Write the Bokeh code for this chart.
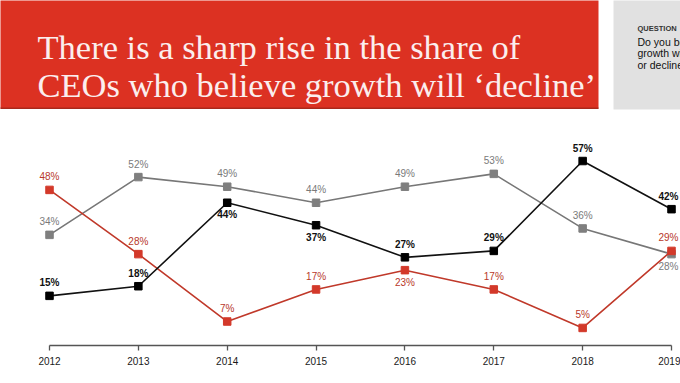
from bokeh.plotting import figure
from bokeh.models import Range1d, FixedTicker, BoxAnnotation, Label, ColumnDataSource
from bokeh.core.properties import value
from bokeh.embed import file_html
from bokeh.resources import INLINE

# ---------------- data ----------------
years = [2012, 2013, 2014, 2015, 2016, 2017, 2018, 2019]
improve = [15, 18, 44, 37, 27, 29, 57, 42]        # black series
stay_same = [34, 52, 49, 44, 49, 53, 36, 28]      # grey series
decline = [48, 28, 7, 17, 23, 17, 5, 29]          # red series

title_lines = ["There is a sharp rise in the share of",
               "CEOs who believe growth will \u2018decline\u2019"]
question_head = "QUESTION"
question_lines = ["Do you believe global economic",
                  "growth will improve, stay the same",
                  "or decline over the next 12 months?"]

# label placement (style only)
improve_pos = ["above", "above", "below", "below", "above", "above", "above", "above"]
stay_pos = ["above"] * 7 + ["below"]
decline_pos = ["above", "above", "above", "above", "below", "above", "above", "above"]

# ---------------- layout (pixels from the picture's top-left) ----------------
W, H, AXIS_Y = 680, 383, 345
X0_PAGE, PX_YEAR = 49.0, (671.0 - 49.0) / 7.0
Y0_PAGE, PX_PCT = 343.5, 3.21


def px_x(page_x):
    return years[0] + (page_x - X0_PAGE) / PX_YEAR


def px_y(page_y):
    return (Y0_PAGE - page_y) / PX_PCT


p = figure(frame_width=W, frame_height=AXIS_Y,
           x_range=Range1d(px_x(0), px_x(W)),
           y_range=Range1d(px_y(AXIS_Y), px_y(0)),
           output_backend="svg", toolbar_location=None,
           y_axis_location=None, min_border=0, min_border_bottom=H - AXIS_Y,
           outline_line_color=None, background_fill_color="white",
           border_fill_color="white")
p.xgrid.visible = False
p.ygrid.visible = False

# banner and question box
p.add_layout(BoxAnnotation(left=px_x(-5), right=px_x(598), top=px_y(-5), bottom=px_y(108),
                           fill_color="#dc3122", fill_alpha=1, line_color=None, level="underlay"))
p.add_layout(BoxAnnotation(left=px_x(-5), right=px_x(598), top=px_y(107), bottom=px_y(108.5),
                           fill_color="#a9281b", fill_alpha=1, line_color=None, level="underlay"))
p.add_layout(BoxAnnotation(left=px_x(613), right=px_x(690), top=px_y(-5), bottom=px_y(109),
                           fill_color="#e1e1e1", fill_alpha=1, line_color=None, level="underlay"))

for i, t in enumerate(title_lines):
    p.add_layout(Label(x=px_x(37), y=px_y(46 + 38 * i), text=t, text_baseline="alphabetic",
                       text_align="left", text_font="Liberation Serif", text_font_size="34.5px",
                       text_color="#fbeeee"))

p.add_layout(Label(x=px_x(637), y=px_y(28), text=question_head, text_baseline="middle",
                   text_font="Liberation Sans", text_font_size="7.5px", text_font_style="bold",
                   text_color="#333333"))
for i, t in enumerate(question_lines):
    p.add_layout(Label(x=px_x(637), y=px_y(41 + 11.5 * i), text=t, text_baseline="middle",
                       text_font="Liberation Sans", text_font_size="10.5px",
                       text_color="#111111"))

series = [
    (stay_same, stay_pos, "#777777", "#7f7f7f", "#7a7a7a", "normal"),
    (decline, decline_pos, "#c0392a", "#d3392a", "#b8382a", "normal"),
    (improve, improve_pos, "#111111", "#000000", "#111111", "bold"),
]
n = len(years)
for vals, pos, line_c, mark_c, lab_c, style in series:
    src = ColumnDataSource(dict(
        x=years, y=vals, label=[f"{v}%" for v in vals],
        off=[-13 if q == "above" else 12 for q in pos],
        xoff=[0] * (n - 1) + [-3]))
    p.line("x", "y", source=src, line_color=line_c, line_width=1.6)
    p.scatter("x", "y", source=src, marker="square", size=7.5,
              fill_color=mark_c, line_color=mark_c)
    p.text("x", "y", text="label", source=src, y_offset="off", x_offset="xoff",
           text_align="center", text_baseline="middle",
           text_font=value("Liberation Sans"), text_font_size="10px",
           text_font_style=style, text_color=lab_c)

ax = p.xaxis[0]
ax.ticker = FixedTicker(ticks=years)
ax.bounds = (years[0], years[-1])
ax.axis_line_color = "#555555"
ax.axis_line_width = 1.3
ax.major_tick_line_color = "#555555"
ax.major_tick_line_width = 1.3
ax.major_tick_out = 5
ax.major_tick_in = 0
ax.minor_tick_line_color = None
ax.major_label_standoff = 6
ax.major_label_text_font = "Liberation Sans"
ax.major_label_text_font_size = "10px"
ax.major_label_text_color = "#1a1a1a"

open("out.html", "w").write(file_html(p, INLINE))
